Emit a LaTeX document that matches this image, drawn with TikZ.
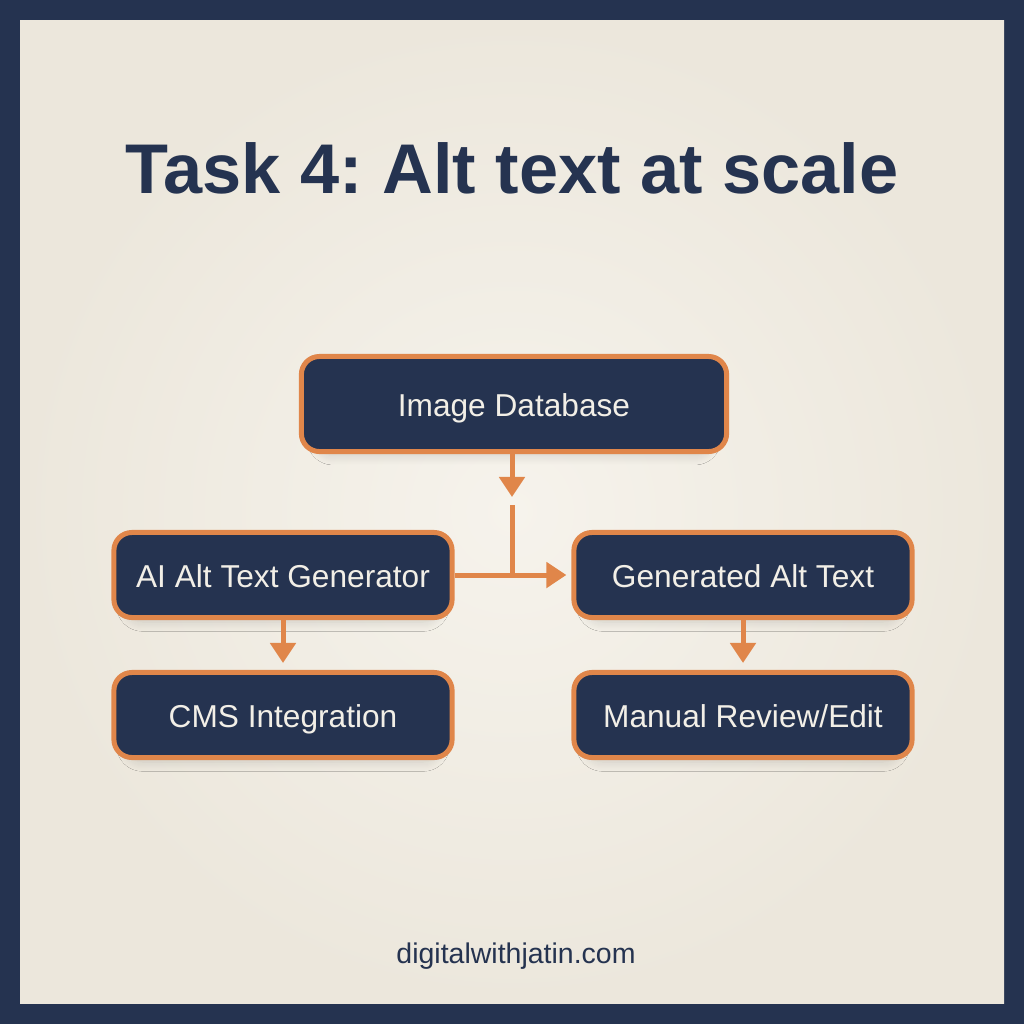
\documentclass[tikz,border=0pt]{standalone}
\usepackage{fontspec}
\setmainfont{Liberation Sans}
\frenchspacing
\usetikzlibrary{arrows.meta, shadows.blur, positioning}
\definecolor{navy}{HTML}{253350}
\definecolor{rust}{HTML}{E0864A}
\definecolor{paperin}{HTML}{F6F3EC}
\definecolor{paperout}{HTML}{ECE7DC}
\definecolor{cream}{HTML}{F2EFE7}
\tikzset{
    stepbox/.style={
        draw=rust, line width=0.05cm, fill=navy, rounded corners=0.18cm,
        text=cream, font=\fontsize{9}{11}\selectfont,
        text height=1.38ex, text depth=0pt,
        minimum width=3.38cm, minimum height=0.85cm,
        blur shadow={shadow xshift=0pt, shadow yshift=-0.08cm, shadow scale=0.93,
            shadow blur radius=0.1cm, shadow blur steps=10, shadow opacity=14}
    },
    flow/.style={draw=rust, line width=0.05cm, -{Triangle[width=0.25cm,length=0.2cm]}},
    stem/.style={draw=rust, line width=0.05cm}
}
\begin{document}
\begin{tikzpicture}[x=0.01cm, y=-0.01cm]
    \useasboundingbox (0,0) rectangle (1024,1024);
    \fill[navy] (0,0) rectangle (1024,1024);
    \shade[inner color=paperin, outer color=paperout] (20,20) rectangle (1004,1003);
    % title and footer
    \node[text=navy, font=\fontsize{20}{24}\selectfont\bfseries] (title) at (512,168) {Task 4: Alt text at scale};
    \node[text=navy, font=\fontsize{8.1}{10}\selectfont] (footer) at (516,956) {digitalwithjatin.com};
    % boxes
    \node[stepbox, minimum width=4.25cm, minimum height=0.95cm] (imgdb) at (514,404) {Image Database};
    \node[stepbox] (gen) at (283,575) {AI Alt Text Generator};
    \node[stepbox] (galt) at (743,575) {Generated Alt Text};
    \node[stepbox] (cms) at (283,715) {CMS Integration};
    \node[stepbox] (review) at (743,715) {Manual Review/Edit};
    % connectors
    \coordinate (dbtip) at (512,497);
    \coordinate (split) at (512,505);
    \draw[flow] (imgdb.south -| dbtip) -- (dbtip);
    \draw[stem] (split) -- (split |- gen.east);
    \draw[flow, shorten >=0.05cm] (gen.east) -- (galt.west);
    \draw[flow, shorten >=0.07cm] (gen.south) -- (cms.north);
    \draw[flow, shorten >=0.07cm] (galt.south) -- (review.north);
\end{tikzpicture}
\end{document}
